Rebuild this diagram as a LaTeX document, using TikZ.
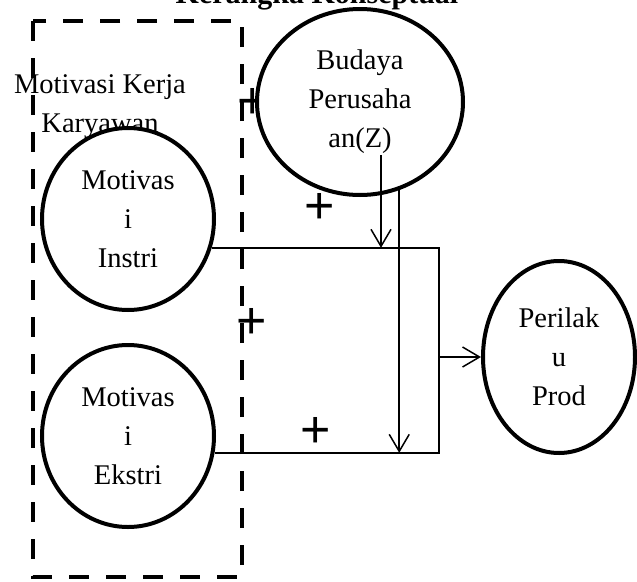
\documentclass[tikz,border=0pt]{standalone}
\usepackage{fontspec}
\setmainfont{Liberation Serif}
\setsansfont{Liberation Sans}
\usetikzlibrary{shapes.geometric,arrows.meta}

\begin{document}
\begin{tikzpicture}[x=1pt, y=-1pt,
    every node/.style={align=center, font=\fontsize{28.5}{39}\selectfont},
    kreis/.style={ellipse, draw, line width=4pt, fill=white, inner sep=0pt},
    vorz/.style={font=\fontsize{52}{52}\selectfont\sffamily, inner sep=0pt},
    pfeil/.style={-{Straight Barb[length=17pt,width=20pt]}, line width=1.5pt}]

    \useasboundingbox (0,0) rectangle (637,581);

    % Titel (oben abgeschnitten)
    \node[font=\fontsize{30}{30}\selectfont\bfseries, anchor=base] (titel) at (317,3) {Kerangka Konseptual};

    % Gruppe links
    \node (gruppe) at (100,107) {Motivasi Kerja\\Karyawan};
    \draw[line width=4pt, dash pattern=on 20pt off 17pt] (33,21) rectangle (242,577);

    % Vorzeichen
    \node[vorz] (p1) at (253,103) {+};
    \node[vorz] (p2) at (320,208) {+};
    \node[vorz] (p3) at (252,323) {+};
    \node[vorz] (p4) at (316,432) {+};

    % Ellipsen
    \node[kreis, minimum width=172pt, minimum height=182pt] (instri) at (128,219) {Motivas\\i\\Instri};
    \node[kreis, minimum width=172pt, minimum height=182pt] (ekstri) at (128,436) {Motivas\\i\\Ekstri};
    \node[kreis, minimum width=206pt, minimum height=186pt] (budaya) at (360,102) {Budaya\\Perusaha\\an(Z)};
    \node[kreis, minimum width=152pt, minimum height=192pt] (perilaku) at (559,357) {Perilak\\u\\Prod};

    % Verbindungen
    \coordinate (mitte) at (439,357);
    \coordinate (zstart) at (381,155);
    \draw[line width=1.5pt] (instri.-19) -| (mitte) |- (ekstri.-11);
    \draw[pfeil] (mitte) -- (perilaku.west);
    \draw[pfeil] (zstart) -- (zstart |- instri.-19);
    \draw[pfeil] (budaya.-66) -- (budaya.-66 |- ekstri.-11);

\end{tikzpicture}
\end{document}
